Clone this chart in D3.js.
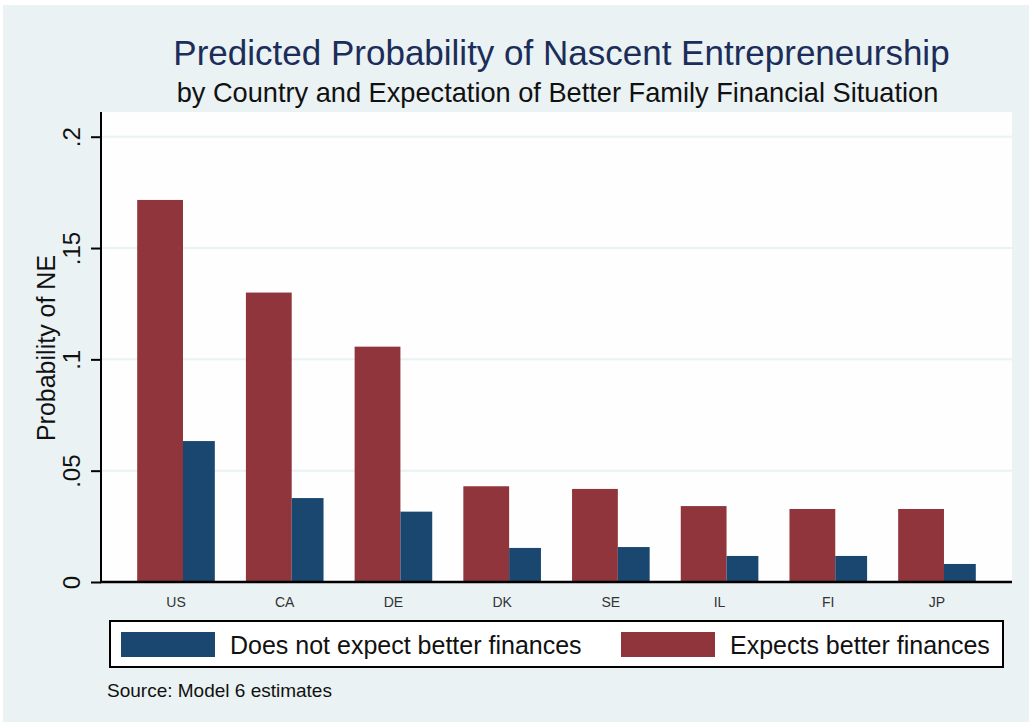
<!DOCTYPE html>
<html>
<head>
<meta charset="utf-8">
<script src="https://cdn.jsdelivr.net/npm/d3@7"></script>
<style>
  html, body { margin: 0; padding: 0; background: #ffffff; }
  svg { display: block; font-family: "Liberation Sans", Arial, sans-serif; }
</style>
</head>
<body>
<div id="chart"></div>
<script>
let width = 1029;
let height = 722;

// data
const countries = ["US", "CA", "DE", "DK", "SE", "IL", "FI", "JP"];
const notExpect = [0.0633, 0.0377, 0.0316, 0.0153, 0.0157, 0.0117, 0.0117, 0.0081];
const expects = [0.1716, 0.1300, 0.1057, 0.0430, 0.0418, 0.0341, 0.0328, 0.0328];
const yTicks = [0, 0.05, 0.1, 0.15, 0.2];
const yTickLabels = ["0", ".05", ".1", ".15", ".2"];
const seriesNames = ["Does not expect better finances", "Expects better finances"];

const navy = "#1a476f", maroon = "#90353b";
const bg = "#eaf2f3";

const plot = {left: 101, right: 1012, top: 112, bottom: 582};

const svg = d3.select("#chart").append("svg")
  .attr("width", width)
  .attr("height", height);

// outer graph region
svg.append("rect")
  .attr("x", 3).attr("y", 5)
  .attr("width", width - 3).attr("height", height - 5)
  .attr("fill", bg);

// plot region
svg.append("rect")
  .attr("x", plot.left).attr("y", plot.top)
  .attr("width", plot.right - plot.left).attr("height", plot.bottom - plot.top)
  .attr("fill", "#fefefe");

let y = d3.scaleLinear()
  .domain([0, 0.2111])
  .range([plot.bottom, plot.top]);

let x = d3.scaleBand()
  .domain(countries)
  .range([plot.left, plot.right])
  .paddingInner(0.286)
  .paddingOuter(0.333);

const bw = x.bandwidth();
const redShare = 0.59;

// gridlines
svg.append("g")
  .selectAll("line")
  .data(yTicks.filter(d => d > 0))
  .join("line")
  .attr("x1", plot.left).attr("x2", plot.right)
  .attr("y1", d => y(d)).attr("y2", d => y(d))
  .attr("stroke", bg)
  .attr("stroke-width", 2);

// bars
const groups = svg.append("g")
  .selectAll("g")
  .data(countries)
  .join("g");

groups.append("rect")
  .attr("x", d => x(d))
  .attr("y", (d, i) => y(expects[i]))
  .attr("width", bw * redShare)
  .attr("height", (d, i) => y(0) - y(expects[i]))
  .attr("fill", maroon);

groups.append("rect")
  .attr("x", d => x(d) + bw * redShare)
  .attr("y", (d, i) => y(notExpect[i]))
  .attr("width", bw * (1 - redShare))
  .attr("height", (d, i) => y(0) - y(notExpect[i]))
  .attr("fill", navy);

// y axis
const yAxis = svg.append("g")
  .attr("transform", `translate(${plot.left},0)`)
  .call(d3.axisLeft(y).tickValues(yTicks).tickSize(10).tickFormat((d, i) => yTickLabels[i]));
yAxis.select(".domain")
  .attr("d", `M0,${plot.top}V${plot.bottom}`)
  .attr("stroke", "#000").attr("stroke-width", 2);
yAxis.selectAll(".tick line").attr("stroke", "#000").attr("stroke-width", 2);
yAxis.selectAll(".tick text")
  .attr("x", null).attr("dy", null)
  .attr("transform", "translate(-21,0) rotate(-90)")
  .attr("text-anchor", "middle")
  .attr("font-size", 24)
  .attr("font-family", "Liberation Sans, Arial, sans-serif")
  .attr("fill", "#111");

// x axis
const xAxis = svg.append("g")
  .attr("transform", `translate(0,${plot.bottom})`)
  .call(d3.axisBottom(x).tickSize(0).tickPadding(0));
xAxis.select(".domain")
  .attr("d", `M${plot.left - 1},0H${plot.right}`)
  .attr("stroke", "#000").attr("stroke-width", 2.5);
xAxis.selectAll(".tick text")
  .attr("y", 25).attr("dy", null)
  .attr("font-size", 14)
  .attr("font-family", "Liberation Sans, Arial, sans-serif")
  .attr("fill", "#333");

// axis title
svg.append("text")
  .attr("transform", `translate(55,${(plot.top + plot.bottom) / 2 + 1}) rotate(-90)`)
  .attr("text-anchor", "middle")
  .attr("font-size", 25)
  .attr("fill", "#111")
  .text("Probability of NE");

// titles
const cx = (plot.left + plot.right) / 2;
svg.append("text")
  .attr("x", cx + 5).attr("y", 65)
  .attr("text-anchor", "middle")
  .attr("font-size", 35)
  .attr("fill", "#1c2d5a")
  .text("Predicted Probability of Nascent Entrepreneurship");

svg.append("text")
  .attr("x", cx + 1).attr("y", 102)
  .attr("text-anchor", "middle")
  .attr("font-size", 27.2)
  .attr("fill", "#111")
  .text("by Country and Expectation of Better Family Financial Situation");

// legend
svg.append("rect")
  .attr("x", 110).attr("y", 621)
  .attr("width", 893).attr("height", 46)
  .attr("fill", "#fff")
  .attr("stroke", "#000").attr("stroke-width", 2);

const legend = svg.selectAll(".legend")
  .data(seriesNames)
  .join("g")
  .attr("class", "legend")
  .attr("transform", (d, i) => `translate(${i === 0 ? 121 : 621},632)`);

legend.append("rect")
  .attr("width", 94).attr("height", 25)
  .attr("fill", (d, i) => i === 0 ? navy : maroon);

legend.append("text")
  .attr("x", 109).attr("y", 22)
  .attr("font-size", 25)
  .attr("fill", "#111")
  .text(d => d);

// note
svg.append("text")
  .attr("x", 107).attr("y", 697)
  .attr("font-size", 19)
  .attr("fill", "#111")
  .text("Source: Model 6 estimates");
</script>
</body>
</html>
